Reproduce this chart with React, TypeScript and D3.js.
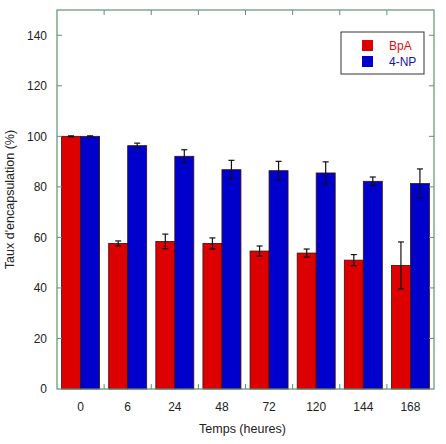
import React, {useEffect, useRef} from 'react';
import * as d3 from 'd3';

// Data
const times = ['0', '6', '24', '48', '72', '120', '144', '168'];
const bpaValues = [100, 57.6, 58.4, 57.6, 54.6, 53.8, 51.0, 48.9];
const bpaErrors = [0.2, 1.0, 2.9, 2.2, 2.0, 1.6, 2.2, 9.3];
const npValues = [100, 96.3, 92.1, 86.8, 86.4, 85.5, 82.2, 81.3];
const npErrors = [0.2, 1.0, 2.6, 3.7, 3.7, 4.4, 1.7, 5.8];
const yTicks = [0, 20, 40, 60, 80, 100, 120, 140];

const series = [
    {name: 'BpA', values: bpaValues, errors: bpaErrors, color: '#dd0000', text: '#dd1111'},
    {name: '4-NP', values: npValues, errors: npErrors, color: '#0000cc', text: '#1111bb'}
];

export default function App() {
    const svgRef = useRef<SVGSVGElement>(null);

    const width = 446, height = 444;
    const margin = {left: 57, right: 12, top: 10, bottom: 55};
    const axisColor = '#5f9270';
    const font = 'Liberation Sans, Arial, sans-serif';

    useEffect(() => {
        const svg = d3.select(svgRef.current);
        svg.selectAll('*').remove();

        const x0 = d3.scaleBand().domain(times).range([margin.left, width - margin.right]);
        const x1 = d3.scaleBand().domain(series.map(s => s.name)).range([0, x0.bandwidth()]).paddingOuter(0.24);
        const y = d3.scaleLinear().domain([0, 150]).range([height - margin.bottom, margin.top]);

        const plotLeft = margin.left, plotRight = width - margin.right;
        const plotTop = margin.top, plotBottom = height - margin.bottom;

        // Bars
        series.forEach(s => {
            svg.append('g')
                .selectAll('rect')
                .data(s.values)
                .enter()
                .append('rect')
                .attr('x', (d, i) => x0(times[i])! + x1(s.name)!)
                .attr('y', d => y(d))
                .attr('width', x1.bandwidth())
                .attr('height', d => y(0) - y(d))
                .attr('fill', s.color)
                .attr('stroke', '#3a1010')
                .attr('stroke-width', 0.8);
        });

        // Error bars
        series.forEach(s => {
            const g = svg.append('g').attr('stroke', '#111').attr('stroke-width', 1.2);
            s.values.forEach((v, i) => {
                const cx = x0(times[i])! + x1(s.name)! + x1.bandwidth() / 2;
                const lo = y(v - s.errors[i]), hi = y(v + s.errors[i]);
                g.append('line').attr('x1', cx).attr('x2', cx).attr('y1', lo).attr('y2', hi);
                g.append('line').attr('x1', cx - 3).attr('x2', cx + 3).attr('y1', lo).attr('y2', lo);
                g.append('line').attr('x1', cx - 3).attr('x2', cx + 3).attr('y1', hi).attr('y2', hi);
            });
        });

        // Frame
        svg.append('rect')
            .attr('x', plotLeft).attr('y', plotTop)
            .attr('width', plotRight - plotLeft).attr('height', plotBottom - plotTop)
            .attr('fill', 'none').attr('stroke', axisColor).attr('stroke-width', 1.2);

        // Y ticks (inward on both sides)
        const tg = svg.append('g').attr('stroke', axisColor).attr('stroke-width', 1);
        yTicks.forEach(t => {
            if (t === 0) return;
            tg.append('line').attr('x1', plotLeft).attr('x2', plotLeft + 5).attr('y1', y(t)).attr('y2', y(t));
            tg.append('line').attr('x1', plotRight).attr('x2', plotRight - 5).attr('y1', y(t)).attr('y2', y(t));
        });
        // X ticks at group boundaries (top and bottom)
        times.slice(1).forEach(t => {
            const bx = x0(t)!;
            tg.append('line').attr('x1', bx).attr('x2', bx).attr('y1', plotBottom).attr('y2', plotBottom - 5);
            tg.append('line').attr('x1', bx).attr('x2', bx).attr('y1', plotTop).attr('y2', plotTop + 5);
        });

        // Y tick labels
        svg.append('g').selectAll('text').data(yTicks).enter().append('text')
            .attr('x', plotLeft - 10).attr('y', d => y(d) + 4.3)
            .attr('text-anchor', 'end')
            .style('font-family', font).style('font-size', '12px').attr('fill', '#222')
            .text(d => d);

        // X tick labels
        svg.append('g').selectAll('text').data(times).enter().append('text')
            .attr('x', d => x0(d)! + x0.bandwidth() / 2).attr('y', plotBottom + 22)
            .attr('text-anchor', 'middle')
            .style('font-family', font).style('font-size', '12px').attr('fill', '#222')
            .text(d => d);

        // Axis titles
        svg.append('text')
            .attr('x', (plotLeft + plotRight) / 2 - 3).attr('y', plotBottom + 44)
            .attr('text-anchor', 'middle')
            .style('font-family', font).style('font-size', '12.5px').attr('fill', '#222')
            .text('Temps (heures)');
        svg.append('text')
            .attr('transform', `translate(14,${(plotTop + plotBottom) / 2}) rotate(-90)`)
            .attr('text-anchor', 'middle')
            .style('font-family', font).style('font-size', '12.5px').attr('fill', '#222')
            .text("Taux d'encapsulation (%)");

        // Legend
        const lg = svg.append('g').attr('transform', 'translate(341,32)');
        lg.append('rect').attr('width', 83).attr('height', 42)
            .attr('fill', 'white').attr('stroke', '#333').attr('stroke-width', 1);
        series.forEach((s, i) => {
            lg.append('rect').attr('x', 21).attr('y', 8 + i * 16).attr('width', 11).attr('height', 11).attr('fill', s.color);
            lg.append('text').attr('x', 48).attr('y', 18 + i * 16)
                .style('font-family', font).style('font-size', '12px').attr('fill', s.text)
                .text(s.name);
        });
    });

    return (
        <svg ref={svgRef} width={width} height={height}
             style={{position: 'absolute', left: 0, top: 0}}/>
    );
}
